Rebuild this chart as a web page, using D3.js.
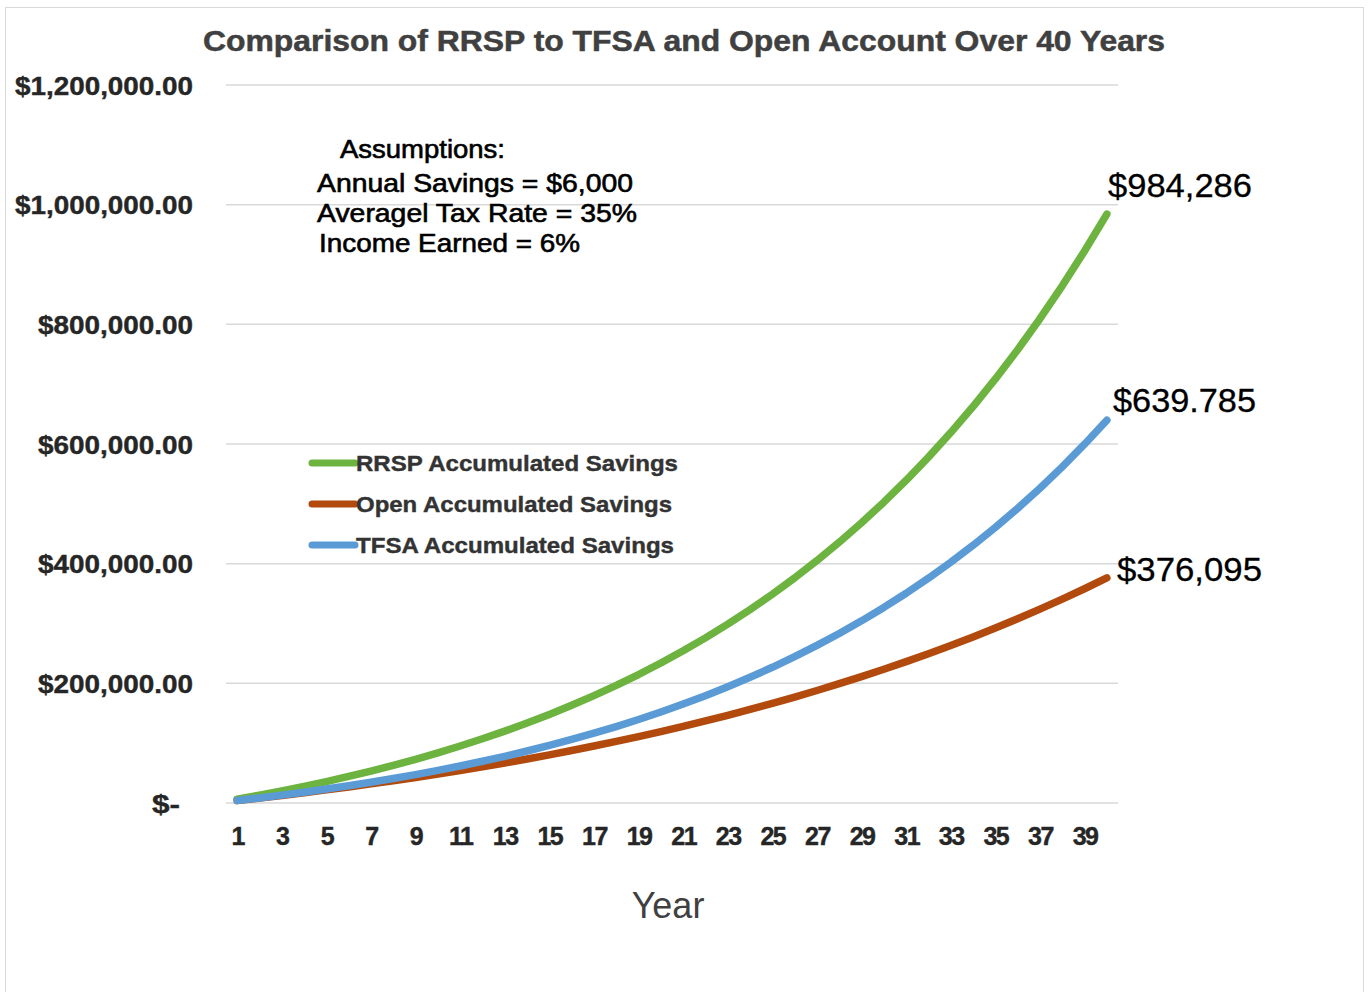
<!DOCTYPE html>
<html>
<head>
<meta charset="utf-8">
<script src="https://cdn.jsdelivr.net/npm/d3@7"></script>
<style>
  html, body { margin: 0; padding: 0; background: #fff; }
  svg { display: block; font-family: "Liberation Sans", Arial, sans-serif; }
</style>
</head>
<body>
<svg id="chart" width="1368" height="992"></svg>
<script>
// ---- Data ----
const years = d3.range(1, 41);
const xTickLabels = [1,3,5,7,9,11,13,15,17,19,21,23,25,27,29,31,33,35,37,39];
const yTickValues = [0, 200000, 400000, 600000, 800000, 1000000, 1200000];
const yTickLabels = ["$-", "$200,000.00", "$400,000.00", "$600,000.00", "$800,000.00", "$1,000,000.00", "$1,200,000.00"];

const rrsp = [6360,13102,20248,27823,35852,44363,53385,62948,73085,83830,
  95220,107293,120090,133656,148035,163277,179434,196560,214714,233956,
  254354,275975,298894,323187,348938,376235,405169,435839,468349,502810,
  539339,578059,619103,662609,708725,757609,809425,864351,922572,984286];
const tfsa = [4134,8516,13161,18085,23304,28836,34700,40916,47505,54490,
  61893,69740,78059,86876,96223,106130,116632,127764,139564,152071,
  165330,179384,194281,210072,226810,244553,263360,283295,304427,326827,
  350570,375738,402417,430696,460671,492446,526126,561828,599672,639785];
const openAcct = [4052,8262,12637,17181,21904,26810,31908,37204,42707,48425,
  54366,60538,66951,73614,80537,87730,95204,102969,111037,119420,
  128129,137178,146580,156349,166499,177044,188001,199385,211213,223503,
  236272,249538,263322,277644,292524,307985,324048,340738,358079,376095];

const seriesNames = ["RRSP Accumulated Savings", "Open Accumulated Savings", "TFSA Accumulated Savings"];
const seriesColors = ["#6CB33F", "#B24A0D", "#5B9BD5"];
const seriesValues = [rrsp, openAcct, tfsa];
const endLabels = ["$984,286", "$639.785", "$376,095"];

const titleText = "Comparison of RRSP to TFSA and Open Account Over 40 Years";
const assumptions = ["Annual Savings = $6,000", "Averagel Tax Rate = 35%", "Income Earned = 6%"];

// ---- Layout ----
const svg = d3.select("#chart");
const plot = { left: 226, right: 1118, top: 85, bottom: 803 };

svg.append("rect").attr("x", 5.5).attr("y", 7.5).attr("width", 1358).attr("height", 1000)
  .attr("fill", "#fff").attr("stroke", "#d9d9d9").attr("stroke-width", 1);

const x = d3.scalePoint().domain(years).range([plot.left, plot.right]).padding(0.5);
const y = d3.scaleLinear().domain([0, 1200000]).range([plot.bottom, plot.top]);

// gridlines
svg.append("g").selectAll("line").data(yTickValues).join("line")
  .attr("x1", plot.left).attr("x2", plot.right)
  .attr("y1", d => y(d)).attr("y2", d => y(d))
  .attr("stroke", "#d9d9d9").attr("stroke-width", 1.5);

// y axis labels
const yAxis = d3.axisLeft(y).tickValues(yTickValues).tickSize(0)
  .tickFormat((d, i) => yTickLabels[i]);
const gy = svg.append("g").attr("transform", `translate(193,0)`).call(yAxis);
gy.select(".domain").remove();
gy.selectAll("text")
  .attr("font-size", 25).attr("font-weight", "bold").attr("fill", "#262626")
  .attr("stroke", "#262626").attr("stroke-width", 0.4)
  .attr("font-family", "'Liberation Sans', Arial, sans-serif")
  .attr("dy", "0.36em").attr("x", d => d === 0 ? -13 : 0)
  .attr("textLength", (d, i) => yTickLabels[i].length === 13 ? 178 : (yTickLabels[i].length === 11 ? 155 : 28))
  .attr("lengthAdjust", "spacingAndGlyphs");

// x axis labels
const xAxis = d3.axisBottom(x).tickValues(xTickLabels).tickSize(0);
const gx = svg.append("g").attr("transform", `translate(0,${plot.bottom})`).call(xAxis);
gx.select(".domain").remove();
gx.selectAll("text")
  .attr("font-size", 25).attr("font-weight", "bold").attr("fill", "#262626")
  .attr("stroke", "#262626").attr("stroke-width", 0.4)
  .attr("font-family", "'Liberation Sans', Arial, sans-serif")
  .attr("y", 42).attr("dy", 0).attr("letter-spacing", -1.5);

// lines
const line = d3.line().x((d, i) => x(years[i])).y(d => y(d)).curve(d3.curveLinear);
const drawOrder = [1, 0, 2];
svg.append("g").selectAll("path").data(drawOrder).join("path")
  .attr("d", k => line(seriesValues[k]))
  .attr("fill", "none")
  .attr("stroke", k => seriesColors[k])
  .attr("stroke-width", 7.5)
  .attr("stroke-linecap", "round")
  .attr("stroke-linejoin", "round");

// end labels
const endPos = [
  { x: 1108, y: 197, w: 144 },
  { x: 1113, y: 412, w: 143 },
  { x: 1117, y: 581, w: 145 }
];
svg.append("g").selectAll("text").data(endLabels).join("text")
  .attr("x", (d, i) => endPos[i].x)
  .attr("y", (d, i) => endPos[i].y)
  .attr("textLength", (d, i) => endPos[i].w)
  .attr("lengthAdjust", "spacingAndGlyphs")
  .attr("font-size", 33).attr("fill", "#000")
  .attr("stroke", "#000").attr("stroke-width", 0.3)
  .text(d => d);

// title
svg.append("text").attr("x", 203).attr("y", 51)
  .attr("textLength", 962).attr("lengthAdjust", "spacingAndGlyphs")
  .attr("font-size", 29).attr("font-weight", "bold").attr("fill", "#404040")
  .attr("stroke", "#404040").attr("stroke-width", 0.5)
  .text(titleText);

// assumptions
svg.append("text").attr("x", 340).attr("y", 158)
  .attr("textLength", 165).attr("lengthAdjust", "spacingAndGlyphs")
  .attr("font-size", 25).attr("fill", "#000").attr("stroke", "#000").attr("stroke-width", 0.6)
  .text("Assumptions:");
const aPos = [{ x: 317, y: 192, w: 316 }, { x: 317, y: 222, w: 320 }, { x: 319, y: 252, w: 261 }];
svg.append("g").selectAll("text").data(assumptions).join("text")
  .attr("x", (d, i) => aPos[i].x).attr("y", (d, i) => aPos[i].y)
  .attr("textLength", (d, i) => aPos[i].w).attr("lengthAdjust", "spacingAndGlyphs")
  .attr("font-size", 25).attr("fill", "#000").attr("stroke", "#000").attr("stroke-width", 0.6)
  .text(d => d);

// legend
const legY = [463, 504, 545];
const legW = [322, 316, 318];
const leg = svg.append("g").selectAll("g").data(seriesNames).join("g")
  .attr("transform", (d, i) => `translate(310,${legY[i]})`);
leg.append("line").attr("x1", 2).attr("x2", 45).attr("y1", 0).attr("y2", 0)
  .attr("stroke", (d, i) => seriesColors[i]).attr("stroke-width", 7).attr("stroke-linecap", "round");
leg.append("text").attr("x", 46).attr("y", 8)
  .attr("textLength", (d, i) => legW[i]).attr("lengthAdjust", "spacingAndGlyphs")
  .attr("font-size", 22).attr("font-weight", "bold").attr("fill", "#333")
  .attr("stroke", "#333").attr("stroke-width", 0.4)
  .text(d => d);

// x axis title
svg.append("text").attr("x", 668).attr("y", 918).attr("text-anchor", "middle")
  .attr("font-size", 36).attr("fill", "#404040").text("Year");
</script>
</body>
</html>
